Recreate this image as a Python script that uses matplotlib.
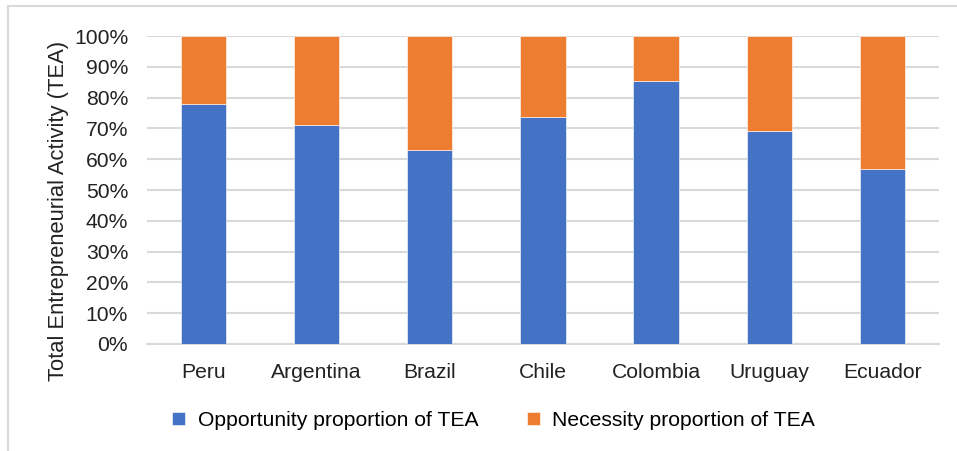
import matplotlib.pyplot as plt
from matplotlib.lines import Line2D
from matplotlib.ticker import PercentFormatter

countries = ['Peru', 'Argentina', 'Brazil', 'Chile', 'Colombia', 'Uruguay', 'Ecuador']
opportunity = [77.8, 71.0, 63.0, 73.6, 85.3, 69.1, 56.7]
necessity = [100 - v for v in opportunity]

plt.rcParams['font.family'] = ['Liberation Sans', 'DejaVu Sans']

fig = plt.figure(figsize=(9.57, 4.51), dpi=100)
ax = fig.add_axes([0.1536, 0.2373, 0.8275, 0.6827])

x = range(len(countries))
ax.bar(x, opportunity, width=0.4, color='#4472C4', label='Opportunity proportion of TEA',
       edgecolor='white', linewidth=0.4, zorder=3)
ax.bar(x, necessity, width=0.4, bottom=opportunity, color='#ED7D31',
       label='Necessity proportion of TEA', edgecolor='white', linewidth=0.4, zorder=3)

ax.set_xlim(-0.5, len(countries) - 0.5)
ax.set_ylim(0, 100)
ax.set_yticks(range(0, 101, 10))
ax.yaxis.set_major_formatter(PercentFormatter(decimals=0))
ax.set_xticks(list(x))
ax.set_xticklabels(countries)
ax.tick_params(axis='both', length=0, labelsize=15.2, colors='#222222')
ax.tick_params(axis='x', pad=14)
ax.tick_params(axis='y', pad=13.5)
ax.grid(axis='y', color='#d9d9d9', linewidth=1.5, zorder=0)
for side in ['top', 'right', 'left']:
    ax.spines[side].set_visible(False)
ax.spines['bottom'].set_color('#d9d9d9')
ax.spines['bottom'].set_linewidth(1.5)

ax.set_ylabel('Total Entrepreneurial Activity (TEA)', fontsize=15.8, color='#222222')
ax.yaxis.set_label_coords(-0.098, 0.432)

fig.legend(loc='lower center', bbox_to_anchor=(0.516, 0.005), ncol=2, frameon=False,
           fontsize=15.2, handlelength=0.6, handleheight=0.6, columnspacing=2.3,
           handletextpad=0.6)

# outer chart frame (only top and left edges show)
fig.add_artist(Line2D([0.008, 1.0], [0.986, 0.986], color='#d9d9d9', linewidth=1.5,
                      transform=fig.transFigure))
fig.add_artist(Line2D([0.008, 0.008], [0.0, 0.986], color='#d9d9d9', linewidth=1.5,
                      transform=fig.transFigure))

fig.savefig('out.png', dpi=100)
